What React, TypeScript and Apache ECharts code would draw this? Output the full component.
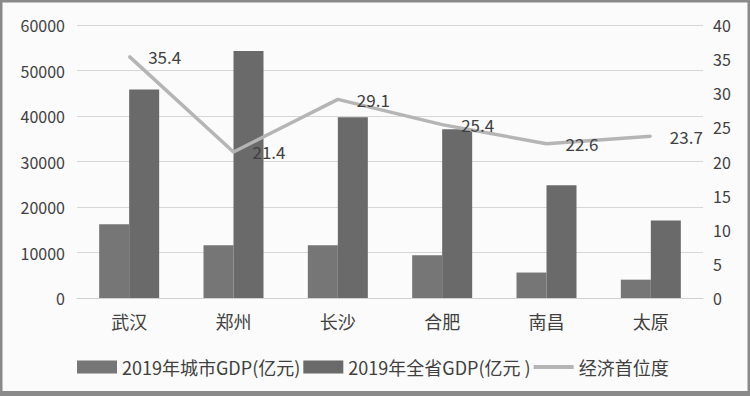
import React, { useEffect, useRef } from "react";
import * as echarts from "echarts";

const categories = ["武汉", "郑州", "长沙", "合肥", "南昌", "太原"];
const cityGDP = [16223, 11590, 11574, 9409, 5596, 4029];
const provinceGDP = [45828, 54259, 39752, 37114, 24758, 17027];
const primacy = [35.4, 21.4, 29.1, 25.4, 22.6, 23.7];
const seriesNames = ["2019年城市GDP(亿元)", "2019年全省GDP(亿元 )", "经济首位度"];

const FONT = "'Noto Sans CJK SC', 'Noto Sans', sans-serif";
const TXT = "#404040";
const LINE = "#b5b5b5";

export default function App() {
  const ref = useRef<HTMLDivElement>(null);
  useEffect(() => {
    document.body.style.margin = "0";
    const chart = echarts.init(ref.current!, null, { renderer: "svg" });
    chart.setOption({
      animation: false,
      backgroundColor: "#fbfbfb",
      textStyle: { fontFamily: FONT, color: TXT },
      grid: { left: 77, right: 47, top: 25, bottom: 98 },
      legend: {
        left: 72,
        top: 353,
        itemGap: 3,
        itemWidth: 40,
        itemHeight: 13,
        textStyle: { fontSize: 18, color: TXT, fontFamily: FONT },
        data: [
          { name: seriesNames[0], icon: "rect" },
          { name: seriesNames[1], icon: "rect" },
          { name: seriesNames[2], icon: "path://M0,0 H40 V4 H0 Z", itemStyle: { color: LINE, opacity: 1 } },
        ],
      },
      xAxis: {
        type: "category",
        data: categories,
        axisTick: { show: false },
        axisLine: { lineStyle: { color: "#d0d0d0" } },
        axisLabel: { fontSize: 18, color: TXT, margin: 14, fontFamily: FONT },
      },
      yAxis: [
        {
          type: "value",
          min: 0,
          max: 60000,
          interval: 10000,
          axisLabel: { fontSize: 16, color: TXT, margin: 12, fontFamily: FONT, formatter: (v: number) => String(v) },
          splitLine: { lineStyle: { color: "#d6d6d6" } },
          axisLine: { show: false },
          axisTick: { show: false },
        },
        {
          type: "value",
          min: 0,
          max: 40,
          interval: 5,
          position: "right",
          axisLabel: { fontSize: 16, color: TXT, margin: 10, fontFamily: FONT, formatter: (v: number) => String(v) },
          splitLine: { show: false },
          axisLine: { show: false },
          axisTick: { show: false },
        },
      ],
      series: [
        {
          name: seriesNames[0],
          type: "bar",
          data: cityGDP,
          barWidth: 30,
          barGap: "0%",
          itemStyle: { color: "#767676" },
        },
        {
          name: seriesNames[1],
          type: "bar",
          data: provinceGDP,
          barWidth: 30,
          barGap: "0%",
          itemStyle: { color: "#6a6a6a" },
        },
        {
          name: seriesNames[2],
          type: "line",
          yAxisIndex: 1,
          data: primacy,
          symbol: "circle",
          symbolSize: 2,
          showSymbol: true,
          lineStyle: { color: LINE, width: 3.5 },
          itemStyle: { color: LINE },
          label: {
            show: true,
            position: "right",
            distance: 18,
            fontSize: 17,
            color: TXT,
            fontFamily: FONT,
          },
        },
      ],
      graphic: [
        {
          type: "rect",
          shape: { x: 1, y: 1, width: 748, height: 393 },
          style: { fill: "none", stroke: "#8a8a8a", lineWidth: 3 },
          silent: true,
        },
        {
          type: "rect",
          shape: { x: 0, y: 391, width: 750, height: 5 },
          style: { fill: "#8a8a8a" },
          silent: true,
        },
      ],
    });
    return () => chart.dispose();
  }, []);
  return <div ref={ref} style={{ width: 750, height: 396 }} />;
}
